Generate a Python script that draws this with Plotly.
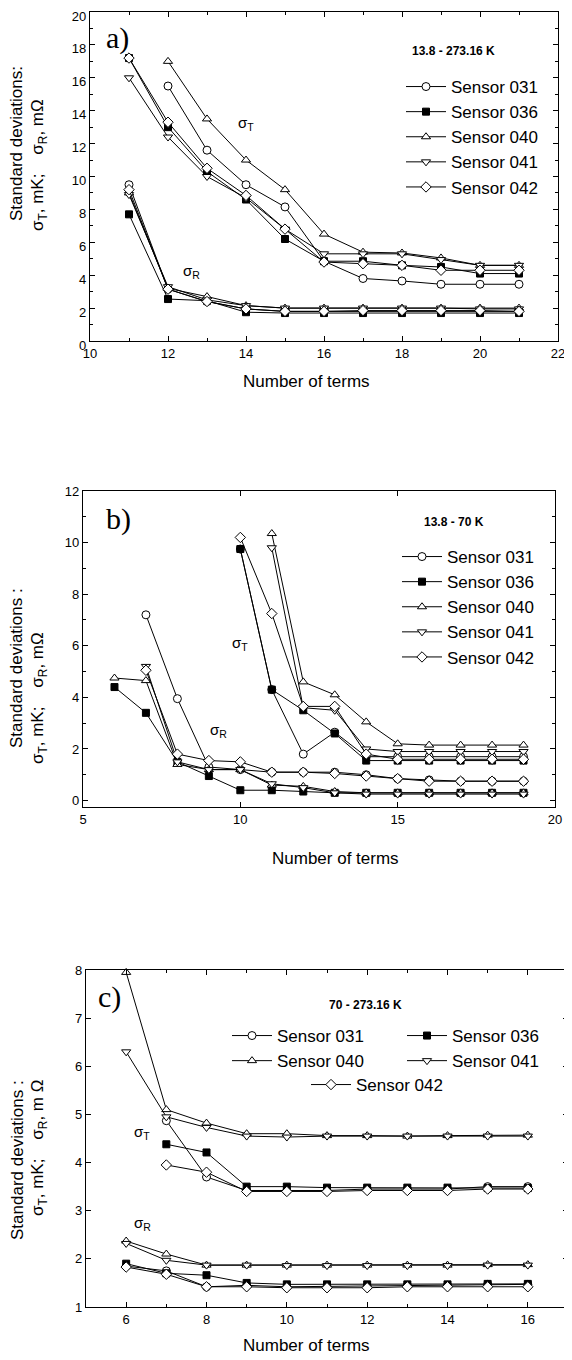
import plotly.graph_objects as go

# ---------------- data ----------------
sensors = ["031", "036", "040", "041", "042"]
symbols = ["circle", "square", "triangle-up", "triangle-down", "diamond"]
fills = ["white", "black", "white", "white", "white"]

# panel a) 13.8 - 273.16 K
a_T_x_031 = [12, 13, 14, 15, 16, 17, 18, 19, 20, 21]
a_T_031 = [15.5, 11.6, 9.5, 8.15, 4.85, 3.8, 3.65, 3.45, 3.45, 3.45]
a_T_x_036 = [11, 12, 13, 14, 15, 16, 17, 18, 19, 20, 21]
a_T_036 = [17.2, 13.0, 10.3, 8.6, 6.2, 4.85, 4.85, 4.6, 4.5, 4.1, 4.1]
a_T_x_040 = [12, 13, 14, 15, 16, 17, 18, 19, 20, 21]
a_T_040 = [17.0, 13.5, 11.0, 9.2, 6.5, 5.4, 5.35, 5.05, 4.6, 4.6]
a_T_x_041 = [11, 12, 13, 14, 15, 16, 17, 18, 19, 20, 21]
a_T_041 = [16.0, 12.4, 10.0, 8.7, 6.8, 5.3, 5.3, 5.3, 4.95, 4.6, 4.6]
a_T_x_042 = [11, 12, 13, 14, 15, 16, 17, 18, 19, 20, 21]
a_T_042 = [17.2, 13.3, 10.5, 8.85, 6.8, 4.8, 4.7, 4.6, 4.3, 4.3, 4.3]

a_R_x = [11, 12, 13, 14, 15, 16, 17, 18, 19, 20, 21]
a_R_031 = [9.5, 3.15, 2.4, 1.95, 1.8, 1.8, 1.8, 1.8, 1.8, 1.8, 1.8]
a_R_036 = [7.7, 2.55, 2.45, 1.75, 1.7, 1.7, 1.7, 1.7, 1.7, 1.7, 1.7]
a_R_040 = [9.0, 3.2, 2.7, 2.15, 2.0, 2.0, 2.0, 2.0, 2.0, 2.0, 2.0]
a_R_041 = [8.9, 3.3, 2.5, 2.15, 2.0, 2.0, 2.0, 2.0, 2.0, 1.95, 1.95]
a_R_042 = [9.2, 3.15, 2.4, 1.95, 1.8, 1.8, 1.85, 1.85, 1.85, 1.85, 1.8]

# panel b) 13.8 - 70 K
b_T_x_031 = [10, 11, 12, 13, 14, 15, 16, 17, 18, 19]
b_T_031 = [9.75, 4.3, 1.8, 2.65, 1.7, 1.7, 1.7, 1.7, 1.7, 1.7]
b_T_x_036 = [10, 11, 12, 13, 14, 15, 16, 17, 18, 19]
b_T_036 = [9.75, 4.3, 3.5, 2.6, 1.55, 1.55, 1.55, 1.55, 1.55, 1.55]
b_T_x_040 = [11, 12, 13, 14, 15, 16, 17, 18, 19]
b_T_040 = [10.35, 4.6, 4.1, 3.05, 2.2, 2.15, 2.15, 2.15, 2.15]
b_T_x_041 = [11, 12, 13, 14, 15, 16, 17, 18, 19]
b_T_041 = [9.8, 3.6, 3.5, 2.0, 1.9, 1.9, 1.9, 1.9, 1.9]
b_T_x_042 = [10, 11, 12, 13, 14, 15, 16, 17, 18, 19]
b_T_042 = [10.2, 7.25, 3.65, 3.65, 1.8, 1.6, 1.6, 1.6, 1.6, 1.6]

b_R_x_031 = [7, 8, 9, 10, 11, 12, 13, 14, 15, 16, 17, 18, 19]
b_R_031 = [7.2, 3.95, 1.3, 1.2, 1.1, 1.1, 1.1, 1.0, 0.85, 0.8, 0.75, 0.75, 0.75]
b_R_x_036 = [6, 7, 8, 9, 10, 11, 12, 13, 14, 15, 16, 17, 18, 19]
b_R_036 = [4.4, 3.4, 1.5, 0.95, 0.4, 0.4, 0.35, 0.3, 0.3, 0.3, 0.3, 0.3, 0.3, 0.3]
b_R_x_040 = [6, 7, 8, 9, 10, 11, 12, 13, 14, 15, 16, 17, 18, 19]
b_R_040 = [4.75, 4.65, 1.4, 1.2, 1.2, 0.6, 0.55, 0.35, 0.3, 0.3, 0.3, 0.3, 0.3, 0.3]
b_R_x_041 = [7, 8, 9, 10, 11, 12, 13, 14, 15, 16, 17, 18, 19]
b_R_041 = [5.2, 1.5, 1.2, 1.2, 0.65, 0.5, 0.3, 0.25, 0.25, 0.25, 0.25, 0.25, 0.25]
b_R_x_042 = [7, 8, 9, 10, 11, 12, 13, 14, 15, 16, 17, 18, 19]
b_R_042 = [5.05, 1.8, 1.55, 1.5, 1.1, 1.1, 1.05, 0.95, 0.85, 0.75, 0.75, 0.75, 0.75]

# panel c) 70 - 273.16 K
c_T_x_031 = [7, 8, 9, 10, 11, 12, 13, 14, 15, 16]
c_T_031 = [4.87, 3.7, 3.42, 3.42, 3.42, 3.45, 3.45, 3.45, 3.5, 3.5]
c_T_x_036 = [7, 8, 9, 10, 11, 12, 13, 14, 15, 16]
c_T_036 = [4.38, 4.21, 3.5, 3.5, 3.48, 3.48, 3.48, 3.48, 3.47, 3.47]
c_T_x_040 = [6, 7, 8, 9, 10, 11, 12, 13, 14, 15, 16]
c_T_040 = [7.95, 5.1, 4.82, 4.6, 4.6, 4.56, 4.56, 4.55, 4.56, 4.57, 4.57]
c_T_x_041 = [6, 7, 8, 9, 10, 11, 12, 13, 14, 15, 16]
c_T_041 = [6.3, 4.95, 4.73, 4.55, 4.53, 4.55, 4.55, 4.55, 4.55, 4.55, 4.55]
c_T_x_042 = [7, 8, 9, 10, 11, 12, 13, 14, 15, 16]
c_T_042 = [3.95, 3.8, 3.4, 3.4, 3.4, 3.42, 3.42, 3.42, 3.45, 3.45]

c_R_x = [6, 7, 8, 9, 10, 11, 12, 13, 14, 15, 16]
c_R_031 = [1.85, 1.75, 1.42, 1.45, 1.42, 1.43, 1.43, 1.45, 1.45, 1.47, 1.47]
c_R_036 = [1.9, 1.7, 1.66, 1.5, 1.47, 1.47, 1.47, 1.47, 1.47, 1.48, 1.48]
c_R_040 = [2.37, 2.1, 1.87, 1.87, 1.87, 1.87, 1.87, 1.87, 1.87, 1.88, 1.88]
c_R_041 = [2.32, 1.97, 1.87, 1.87, 1.86, 1.86, 1.86, 1.86, 1.86, 1.87, 1.87]
c_R_042 = [1.83, 1.68, 1.42, 1.42, 1.4, 1.4, 1.4, 1.42, 1.42, 1.42, 1.42]

# ---------------- layout helpers ----------------
# the page body has an 8 px margin, so the figure is 8 px smaller and every
# position below (taken in page pixels) is shifted by 8 px
PAD = 8
W, H = 572 - PAD, 1360 - PAD
FONT = "Liberation Sans, Arial, sans-serif"
SERIF = "Liberation Serif, Times New Roman, serif"


def fx(p):
    return (p - PAD) / W


def fy(p):
    return 1 - (p - PAD) / H


fig = go.Figure()

panel_T = [
    [(a_T_x_031, a_T_031), (a_T_x_036, a_T_036), (a_T_x_040, a_T_040), (a_T_x_041, a_T_041), (a_T_x_042, a_T_042)],
    [(b_T_x_031, b_T_031), (b_T_x_036, b_T_036), (b_T_x_040, b_T_040), (b_T_x_041, b_T_041), (b_T_x_042, b_T_042)],
    [(c_T_x_031, c_T_031), (c_T_x_036, c_T_036), (c_T_x_040, c_T_040), (c_T_x_041, c_T_041), (c_T_x_042, c_T_042)],
]
panel_R = [
    [(a_R_x, a_R_031), (a_R_x, a_R_036), (a_R_x, a_R_040), (a_R_x, a_R_041), (a_R_x, a_R_042)],
    [(b_R_x_031, b_R_031), (b_R_x_036, b_R_036), (b_R_x_040, b_R_040), (b_R_x_041, b_R_041), (b_R_x_042, b_R_042)],
    [(c_R_x, c_R_031), (c_R_x, c_R_036), (c_R_x, c_R_040), (c_R_x, c_R_041), (c_R_x, c_R_042)],
]
axes = [("x", "y"), ("x2", "y2"), ("x3", "y3")]
legend_of = [
    ["legend"] * 5,
    ["legend2"] * 5,
    ["legend3", "legend4", "legend3", "legend4", "legend5"],
]

for p in range(3):
    xa, ya = axes[p]
    for i, s in enumerate(sensors):
        for k, (xs, ys) in enumerate([panel_T[p][i], panel_R[p][i]]):
            fig.add_trace(go.Scatter(
                x=xs, y=ys, xaxis=xa, yaxis=ya, mode="lines+markers",
                name="Sensor " + s, legendgroup=f"p{p}s{s}",
                legend=legend_of[p][i], showlegend=(k == 0),
                line=dict(color="black", width=1),
                marker=dict(symbol=symbols[i], size=8 if symbols[i] != "square" else 7,
                            color=fills[i], line=dict(color="black", width=1)),
                cliponaxis=False,
            ))


def axis(domain, rng, dtick, tick0, minor=None, anchor=None, shift=0):
    d = dict(domain=domain, range=rng, dtick=dtick, tick0=tick0, ticks="inside",
             ticklen=5, tickwidth=1, tickcolor="black", showline=True, linecolor="black",
             linewidth=1.3, mirror="allticks", showgrid=False, zeroline=False, automargin=False,
             ticklabeloverflow="allow", ticklabelshift=shift,
             tickfont=dict(family=FONT, size=13, color="black"), anchor=anchor)
    if minor:
        d["minor"] = dict(dtick=minor, ticks="inside", ticklen=3, tickcolor="black", showgrid=False)
    return d


fig.update_layout(
    width=W, height=H, margin=dict(l=0, r=0, t=0, b=0, autoexpand=False),
    paper_bgcolor="white", plot_bgcolor="white",
    font=dict(family=FONT, color="black"),
    xaxis=axis([fx(90), fx(558)], [10, 22], 2, 10, 1, "y"),
    yaxis=axis([fy(341), fy(12)], [0, 20], 2, 0, 1, "x", shift=4),
    xaxis2=axis([fx(83), fx(555)], [5, 20], 5, 5, None, "y2"),
    yaxis2=axis([fy(807), fy(491)], [-0.25, 12], 2, 0, 1, "x2"),
    xaxis3=axis([fx(86), fx(568)], [5, 17], 2, 0, 1, "y3"),
    yaxis3=axis([fy(1307), fy(970)], [1, 8], 1, 0, None, "x3"),
)

leg_common = dict(bgcolor="rgba(0,0,0,0)", borderwidth=0, font=dict(family=FONT, size=17, color="black"),
                  itemwidth=40, xanchor="left", yanchor="top", tracegroupgap=0)
fig.update_layout(
    legend=dict(x=fx(401), y=fy(69), **leg_common),
    legend2=dict(x=fx(397), y=fy(539), **leg_common),
    legend3=dict(x=fx(227), y=fy(1018), **leg_common),
    legend4=dict(x=fx(402), y=fy(1018), **leg_common),
    legend5=dict(x=fx(306), y=fy(1067), **leg_common),
)

ann = []


def add(text, xp, yp, size, family=FONT, xanchor="center", angle=0):
    ann.append(dict(text=text, x=fx(xp), y=fy(yp), xref="paper", yref="paper",
                    xanchor=xanchor, yanchor="middle", textangle=angle, showarrow=False,
                    font=dict(family=family, size=size, color="black")))


# panel letters
for txt, xp, yp in [("a)", 104, 38), ("b)", 104, 519), ("c)", 96, 997)]:
    add(txt, xp, yp, 30, SERIF, "left")
# temperature ranges
for txt, xp, yp in [("13.8 - 273.16 K", 453, 51), ("13.8 - 70 K", 454, 522), ("70 - 273.16 K", 365, 1005)]:
    add("<b>" + txt + "</b>", xp, yp, 12)
# sigma labels in data coordinates
sig = [("x", "y", 14.0, 13.2, 12.6, 4.2), ("x2", "y2", 10.0, 6.1, 9.3, 2.7), ("x3", "y3", 6.4, 4.63, 6.4, 2.74)]
for xa, ya, tx, ty, rx, ry in sig:
    for t, xx, yy in [("σ<sub>T</sub>", tx, ty), ("σ<sub>R</sub>", rx, ry)]:
        ann.append(dict(text=t, x=xx, y=yy, xref=xa, yref=ya, showarrow=False,
                        xanchor="center", yanchor="middle",
                        font=dict(family=FONT, size=15, color="black")))
# x titles
for xp, yp in [(306, 381), (335, 858), (306, 1345)]:
    add("Number of terms", xp, yp, 17)
# y titles (two lines each)
ytitles = [
    ("Standard deviations:", 17, 144, "σ<sub>T</sub>, mK;    σ<sub>R</sub>, mΩ", 39, 165),
    ("Standard deviations :", 17, 668, "σ<sub>T</sub>, mK;    σ<sub>R</sub>, mΩ", 39, 698),
    ("Standard deviations :", 17, 1160, "σ<sub>T</sub>, mK;    σ<sub>R</sub>, m Ω", 39, 1148),
]
for t1, x1, y1, t2, x2, y2 in ytitles:
    add(t1, x1, y1, 17, angle=-90)
    add(t2, x2, y2, 17, angle=-90)
fig.update_layout(annotations=ann)

fig.write_html("out.html")
